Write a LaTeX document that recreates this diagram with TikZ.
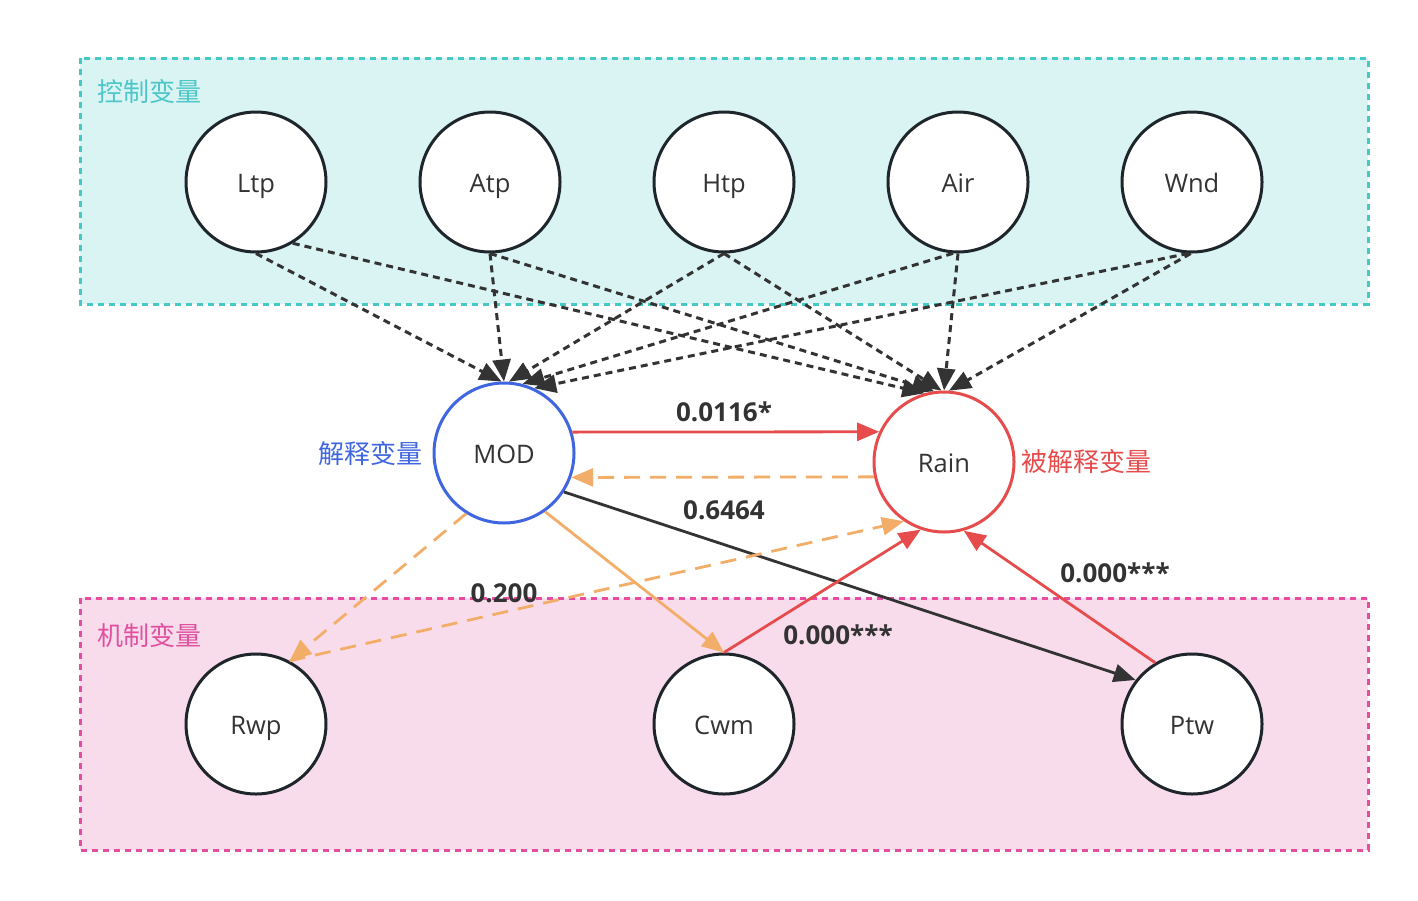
\documentclass[tikz,border=0pt]{standalone}
\usepackage{fontspec}
\setmainfont{Open Sans}
\newfontfamily\cjk{Noto Sans CJK SC}
\usetikzlibrary{arrows.meta}
\definecolor{tealfill}{HTML}{D9F4F3}
\definecolor{tealline}{HTML}{45C9C4}
\definecolor{teallbl}{HTML}{4DC6C8}
\definecolor{pinkfill}{HTML}{F9DCEC}
\definecolor{pinkline}{HTML}{E64D9E}
\definecolor{pinklbl}{HTML}{E0509F}
\definecolor{nodeline}{HTML}{1E252B}
\definecolor{darkline}{HTML}{333333}
\definecolor{redc}{HTML}{E64C4C}
\definecolor{bluec}{HTML}{3F66E0}
\definecolor{orangec}{HTML}{F2AE68}
\tikzset{
  var/.style={circle, draw=nodeline, line width=3pt, fill=white, minimum size=140pt, inner sep=0pt, text height=22pt, text depth=2pt, font=\fontsize{25.5}{30}\selectfont, text=darkline},
  groupbox/.style={line width=3pt, dash pattern=on 6pt off 5pt},
  grouplbl/.style={anchor=west, inner sep=0pt, font=\cjk\fontsize{26}{30}\selectfont},
  tip/.style={-{Triangle[length=22pt,width=18pt]}},
  ctrl/.style={tip, draw=darkline, line width=3pt, dash pattern=on 7pt off 5pt},
  redarr/.style={tip, draw=redc, line width=2.8pt},
  blackarr/.style={tip, draw=darkline, line width=2.8pt},
  orangearr/.style={tip, draw=orangec, line width=2.8pt},
  orangedash/.style={tip, draw=orangec, line width=2.8pt, dash pattern=on 16pt off 10pt},
  coef/.style={inner sep=0pt, font=\bfseries\fontsize{26}{30}\selectfont, text=darkline}
}
\begin{document}
\begin{tikzpicture}[x=1pt, y=-1pt]
\useasboundingbox (0,0) rectangle (1418,900);
% group boxes
\draw[groupbox, draw=tealline, fill=tealfill] (80,58) rectangle (1368,304);
\draw[groupbox, draw=pinkline, fill=pinkfill] (80,598) rectangle (1368,850);
\node[grouplbl, text=teallbl] (lblctrl) at (97,92) {控制变量};
\node[grouplbl, text=pinklbl] (lblmech) at (97,636) {机制变量};
% nodes
\node[var] (Ltp) at (256,182) {Ltp};
\node[var] (Atp) at (490,182) {Atp};
\node[var] (Htp) at (724,182) {Htp};
\node[var] (Air) at (958,182) {Air};
\node[var] (Wnd) at (1192,182) {Wnd};
\node[var, draw=bluec] (MOD) at (504,453) {MOD};
\node[var, draw=redc] (Rain) at (944,462) {Rain};
\node[var] (Rwp) at (256,724) {Rwp};
\node[var] (Cwm) at (724,724) {Cwm};
\node[var] (Ptw) at (1192,724) {Ptw};
\node[anchor=east, inner sep=0pt, font=\cjk\fontsize{26}{30}\selectfont, text=bluec] (lblexp) at (423,454) {解释变量};
\node[anchor=west, inner sep=0pt, font=\cjk\fontsize{26}{30}\selectfont, text=redc] (lbldep) at (1021,462) {被解释变量};
% control edges
\draw[ctrl] (Ltp.south) -- (MOD.92);
\draw[ctrl] (Ltp.-59) -- (Rain.106);
\draw[ctrl] (Atp.south) -- (MOD.90);
\draw[ctrl] (Atp.south) -- (Rain.98);
\draw[ctrl] (Htp.south) -- (MOD.86);
\draw[ctrl] (Htp.south) -- (Rain.92);
\draw[ctrl] (Air.-94) -- (MOD.75);
\draw[ctrl] (Air.south) -- (Rain.90);
\draw[ctrl] (Wnd.-93) -- (MOD.65);
\draw[ctrl] (Wnd.-91) -- (Rain.86);
% main edges
\draw[redarr] (MOD.17) -- (Rain.155.5);
\draw[orangedash] (Rain.192.4) -- (MOD.-20);
\draw[blackarr] (MOD.-33.5) -- (Ptw.142);
\draw[orangearr] (MOD.-55) -- (Cwm.north);
\draw[orangedash] (MOD.-122) -- (Rwp.62);
\draw[orangedash] (Rwp.62) -- (Rain.-124);
\draw[redarr] (Cwm.north) -- (Rain.-109);
\draw[redarr] (Ptw.121) -- (Rain.-74);
% coefficients
\node[coef] (c1) at (724,412) {0.0116*};
\node[coef] (c2) at (724,510) {0.6464};
\node[coef] (c3) at (504,593) {0.200};
\node[coef] (c4) at (838,635) {0.000***};
\node[coef] (c5) at (1115,573) {0.000***};
\end{tikzpicture}
\end{document}
